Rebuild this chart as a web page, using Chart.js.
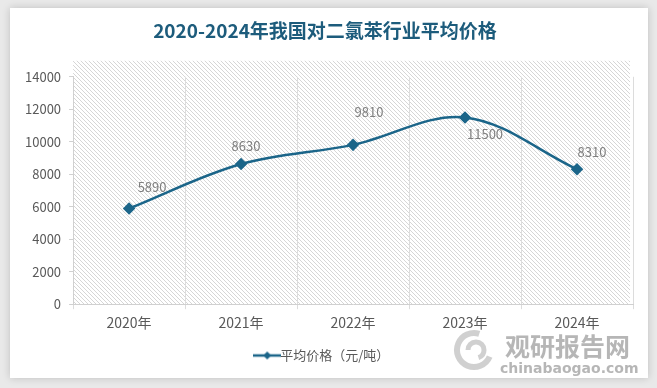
<!DOCTYPE html>
<html>
<head>
<meta charset="utf-8">
<script src="https://cdn.jsdelivr.net/npm/chart.js@4.4.1/dist/chart.umd.min.js"></script>
<style>
  html, body { margin: 0; padding: 0; background: #e9e9e9; }
  #wrap { width: 657px; height: 388px; position: relative; }
</style>
</head>
<body>
<div id="wrap"><canvas id="priceChart" width="657" height="388"></canvas></div>
<script>
const years = ['2020年', '2021年', '2022年', '2023年', '2024年'];
const avgPrice = [5890, 8630, 9810, 11500, 8310];
const yTicks = [0, 2000, 4000, 6000, 8000, 10000, 12000, 14000];
const seriesName = '平均价格（元/吨）';
const chartTitle = '2020-2024年我国对二氯苯行业平均价格';

// label offsets around each point, as in the original
const labelOffsets = [[23, -21], [5, -18], [16, -33], [20, 17], [15, -17]];

const lineColor = '#1b6589';
const cjk = '"Noto Sans CJK SC", "Noto Sans", sans-serif';

// hatched background pattern
function makeHatch() {
    const c = document.createElement('canvas');
    c.width = 4; c.height = 4;
    const g = c.getContext('2d');
    g.fillStyle = '#ffffff';
    g.fillRect(0, 0, 4, 4);
    g.strokeStyle = '#d6d6d6';
    g.lineWidth = 1;
    g.beginPath();
    g.moveTo(0, 0); g.lineTo(4, 4);
    g.moveTo(-1, 3); g.lineTo(1, 5);
    g.moveTo(3, -1); g.lineTo(5, 1);
    g.stroke();
    return c;
}

// legend marker: short line with diamond
function makeLegendMark() {
    const c = document.createElement('canvas');
    c.width = 28; c.height = 10;
    const g = c.getContext('2d');
    g.strokeStyle = lineColor;
    g.lineWidth = 2.5;
    g.beginPath(); g.moveTo(0, 5); g.lineTo(28, 5); g.stroke();
    g.fillStyle = lineColor;
    g.beginPath();
    g.moveTo(14, 1); g.lineTo(18, 5); g.lineTo(14, 9); g.lineTo(10, 5);
    g.closePath(); g.fill();
    return c;
}

const cardPlugin = {
    id: 'card',
    beforeDraw(chart) {
        const ctx = chart.ctx;
        ctx.save();
        ctx.fillStyle = '#e9e9e9';
        ctx.fillRect(0, 0, chart.width, chart.height);
        ctx.shadowColor = 'rgba(0,0,0,0.18)';
        ctx.shadowBlur = 8;
        ctx.fillStyle = '#ffffff';
        ctx.fillRect(10, 8, 638, 370);
        ctx.restore();

        const a = chart.chartArea;
        ctx.save();
        ctx.fillStyle = ctx.createPattern(makeHatch(), 'repeat');
        ctx.fillRect(a.left, a.top - 16, a.right - a.left - 3, a.bottom - a.top + 16);
        ctx.restore();
    },
    afterDatasetsDraw(chart) {
        const ctx = chart.ctx;
        const meta = chart.getDatasetMeta(0);
        ctx.save();
        ctx.font = '13px ' + cjk;
        ctx.fillStyle = '#7f7f7f';
        ctx.textAlign = 'center';
        ctx.textBaseline = 'middle';
        meta.data.forEach((pt, i) => {
            const off = labelOffsets[i];
            ctx.fillText(String(avgPrice[i]), pt.x + off[0], pt.y + off[1]);
        });
        ctx.restore();
    },
    afterDraw(chart) {
        // watermark
        const ctx = chart.ctx;
        ctx.save();
        ctx.globalAlpha = 0.6;
        ctx.fillStyle = '#858585';
        ctx.font = 'bold 25px ' + cjk;
        ctx.textBaseline = 'alphabetic';
        ctx.fillText('观研报告网', 505, 356);
        ctx.font = 'bold 14px "DejaVu Sans", sans-serif';
        ctx.fillText('chinabaogao.com', 500, 373);
        ctx.strokeStyle = '#b0b0b0';
        ctx.lineWidth = 6;
        ctx.beginPath();
        ctx.arc(474, 350, 17, 0.4, Math.PI * 1.6);
        ctx.stroke();
        ctx.lineWidth = 5;
        ctx.beginPath();
        ctx.arc(476, 350, 8, Math.PI, Math.PI * 2.4);
        ctx.stroke();
        ctx.restore();
    }
};

const ctx = document.getElementById('priceChart').getContext('2d');
const priceChart = new Chart(ctx, {
    type: 'line',
    data: {
        labels: years,
        datasets: [{
            label: seriesName,
            data: avgPrice,
            borderColor: lineColor,
            backgroundColor: lineColor,
            borderWidth: 2.5,
            tension: 0.35,
            pointStyle: 'rectRot',
            pointRadius: 4.5,
            pointHoverRadius: 4.5,
            fill: false
        }]
    },
    options: {
        responsive: false,
        animation: false,
        events: [],
        layout: {
            padding: { left: 17, right: 24, top: 4, bottom: 16 }
        },
        scales: {
            x: {
                offset: true,
                grid: {
                    offset: true,
                    color: '#dcdcdc',
                    tickLength: 5,
                    drawTicks: true
                },
                border: { color: '#d0d0d0' },
                ticks: {
                    color: '#595959',
                    font: { family: cjk, size: 14 },
                    padding: 5
                },
                afterFit(axis) {
                    axis.height += 5;
                }
            },
            y: {
                min: 0,
                max: 14000,
                afterBuildTicks(axis) {
                    axis.ticks = yTicks.map(v => ({ value: v }));
                },
                grid: {
                    drawOnChartArea: false,
                    color: '#d0d0d0',
                    tickLength: 4
                },
                border: { color: '#d0d0d0' },
                ticks: {
                    color: '#595959',
                    font: { family: cjk, size: 13 },
                    padding: 8,
                    callback: v => String(v)
                }
            }
        },
        plugins: {
            title: {
                display: true,
                text: chartTitle,
                color: '#1d5c7c',
                font: { family: cjk, size: 19, weight: 'bold' },
                padding: { top: 15, bottom: 35 }
            },
            legend: {
                position: 'bottom',
                labels: {
                    color: '#595959',
                    font: { family: cjk, size: 13 },
                    usePointStyle: true,
                    padding: 8,
                    generateLabels(chart) {
                        return [{
                            text: seriesName,
                            pointStyle: makeLegendMark(),
                            fontColor: '#595959',
                            hidden: false,
                            datasetIndex: 0
                        }];
                    }
                }
            },
            tooltip: { enabled: false }
        }
    },
    plugins: [cardPlugin]
});
</script>
</body>
</html>
